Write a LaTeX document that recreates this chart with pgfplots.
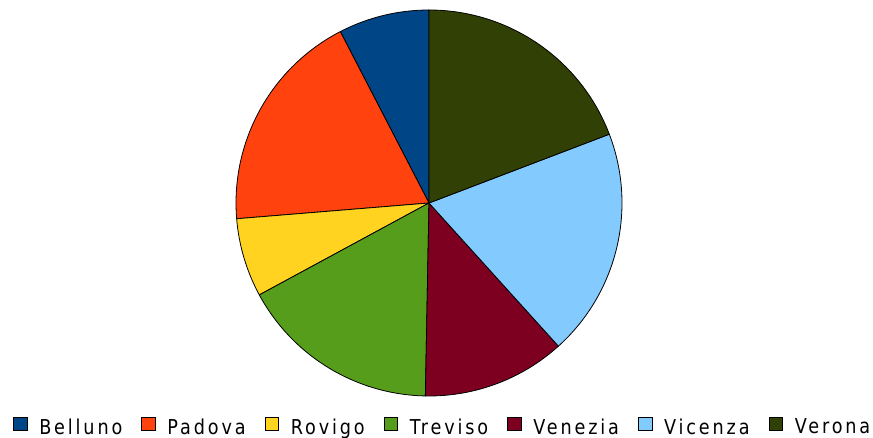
\documentclass[border=0pt]{standalone}
\usepackage{pgfplots}
\usepackage{pgfplotstable}
\pgfplotsset{compat=1.18}
\usepackage{fontspec}
\setmainfont{DejaVu Sans}[FakeStretch=0.86, LetterSpace=14]

\definecolor{c0}{HTML}{004586}
\definecolor{c1}{HTML}{FF420E}
\definecolor{c2}{HTML}{FFD320}
\definecolor{c3}{HTML}{579D1C}
\definecolor{c4}{HTML}{7E0021}
\definecolor{c5}{HTML}{83CAFF}
\definecolor{c6}{HTML}{314004}

% share of each province, in percent
\pgfplotstableread{
name    value
Belluno 7.6
Padova  18.7
Rovigo  6.6
Treviso 16.8
Venezia 12.0
Vicenza 19.1
Verona  19.2
}\datatable

% cumulative angles, counter-clockwise from the top
\xdef\cum{90}
\foreach \i in {0,...,6}{
  \pgfplotstablegetelem{\i}{value}\of\datatable
  \expandafter\xdef\csname sa\i\endcsname{\cum}
  \pgfmathsetmacro\newcum{\cum+\pgfplotsretval*3.6}
  \xdef\cum{\newcum}
  \expandafter\xdef\csname ea\i\endcsname{\cum}
  \pgfplotstablegetelem{\i}{name}\of\datatable
  \expandafter\xdef\csname nm\i\endcsname{\pgfplotsretval}
}

\pgfplotsset{sq legend/.style={legend image code/.code={
  \draw[##1] (0pt,-3.5pt) rectangle (13.5pt,10pt);}}}

\begin{document}
\begin{tikzpicture}
\useasboundingbox (0,0) rectangle (873pt,438pt);
\begin{axis}[
  at={(429pt,235pt)}, anchor=center,
  x=193pt, y=193pt,
  xmin=-1, xmax=1, ymin=-1, ymax=1,
  hide axis,
  clip=false,
  legend columns=7,
  legend style={
    at={(0.533,-0.080)}, anchor=center,
    draw=none, fill=none,
    font=\fontsize{20.5}{23}\selectfont,
    column sep=12pt,
    /tikz/every even column/.append style={column sep=19pt},
    nodes={inner xsep=0pt, inner ysep=1pt},
  },
]
\pgfplotsinvokeforeach{0,...,6}{
  \filldraw[fill=c#1, draw=black, line width=0.8pt, line join=round]
    (axis cs:0,0) -- ++(\csname sa#1\endcsname:193pt)
    arc[start angle=\csname sa#1\endcsname, end angle=\csname ea#1\endcsname, radius=193pt]
    -- cycle;
}
\pgfplotsinvokeforeach{0,...,6}{
  \addlegendimage{sq legend, fill=c#1, draw=black, line width=0.6pt}
  \addlegendentry{\csname nm#1\endcsname}
}
\end{axis}
\end{tikzpicture}
\end{document}
